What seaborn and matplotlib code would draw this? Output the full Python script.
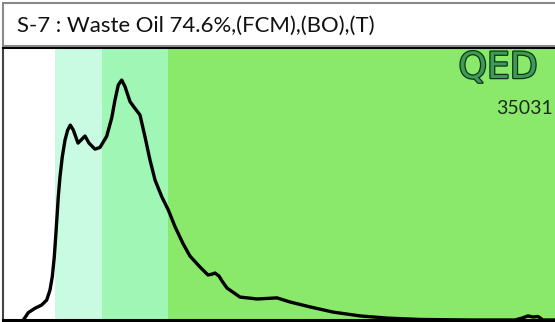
import matplotlib
matplotlib.use("Agg")
import matplotlib.pyplot as plt
import matplotlib.patheffects as pe
from matplotlib.patches import Rectangle
import pandas as pd
import seaborn as sns

# Chromatogram trace (retention position vs. detector response, %)
position = [20.3, 25.3, 32, 38.7, 43.7, 47, 49.3, 51.3, 52.7, 54, 55.3, 57,
            59.3, 62, 64.7, 67.3, 70.3, 75, 78, 82, 86, 92, 97, 103.7, 108.7,
            112, 115.3, 118.7, 122, 127, 132, 137, 142, 147, 152, 158.7, 165.3,
            172, 180, 187, 197, 205, 209, 212, 216, 219, 224, 237, 254, 274,
            287, 307, 330, 357, 384, 417, 467, 512, 519, 525, 530, 535, 540, 560]
response = [0.0, 2.7, 4.3, 5.5, 7.3, 11.0, 15.9, 23.2, 30.5, 37.8, 45.2, 52.5,
            59.8, 65.9, 69.6, 71.4, 69.6, 64.8, 65.9, 67.4, 64.8, 62.6, 63.2,
            67.3, 74.0, 80.6, 86.1, 87.9, 85.5, 80.0, 77.5, 75.1, 67.1, 58.6,
            51.3, 45.2, 40.3, 34.2, 28.0, 23.4, 19.4, 16.5, 16.8, 17.2, 16.1,
            14.3, 11.7, 8.4, 7.7, 8.1, 6.6, 4.8, 2.9, 1.5, 0.7, 0.2, 0.0, 0.0,
            0.7, 1.5, 1.1, 1.3, 0.0, 0.0]

# Boiling-range zones shaded behind the trace
zone_edges = [0, 52, 99, 165, 560]
zone_colors = ["#ffffff", "#c9fbe2", "#a0f6b4", "#8ae96a"]

title = "S-7 : Waste Oil 74.6%,(FCM),(BO),(T)"
brand = "QED"
sample_id = "35031"

df = pd.DataFrame({"position": position, "response": response})

sns.set_theme(style="white")
plt.rcParams["font.family"] = ["Lato", "DejaVu Sans"]

W, H = 555, 322
fig = plt.figure(figsize=(W / 100, H / 100), dpi=100)
fig.patch.set_facecolor("white")

# Header box
fig.patches.append(Rectangle((3 / W, 1 - 46 / H), 1.0, 43 / H,
                             transform=fig.transFigure, facecolor="white",
                             edgecolor="#8a8a8a", linewidth=1.5))
fig.text(17 / W, 1 - 26 / H, title, fontsize=15.9, color="#111111",
         va="center", ha="left")

ax = fig.add_axes([3 / W, 2 / H, 560 / W, 273 / H])
for lo, hi, c in zip(zone_edges[:-1], zone_edges[1:], zone_colors):
    ax.axvspan(lo, hi, color=c, lw=0, zorder=0)

sns.lineplot(data=df, x="position", y="response", ax=ax, color="black",
             linewidth=2.4, zorder=3)
for ln in ax.lines:
    ln.set_solid_joinstyle("round")
    ln.set_solid_capstyle("round")

ax.set_xlim(0, 560)
ax.set_ylim(0, 100)
ax.set_xticks([])
ax.set_yticks([])
ax.set_xlabel("")
ax.set_ylabel("")
for side in ["top", "bottom"]:
    ax.spines[side].set_color("black")
    ax.spines[side].set_linewidth(2.2)
ax.spines["left"].set_color("#444444")
ax.spines["left"].set_linewidth(1.5)
ax.spines["right"].set_visible(False)

fig.text(498 / W, 1 - 68 / H, brand, fontsize=26, color="#3f9a58",
         ha="center", va="center", family="DejaVu Sans",
         path_effects=[pe.Stroke(linewidth=1.8, foreground="#0b3618"),
                       pe.Normal()])
fig.text(553 / W, 1 - 109 / H, sample_id, fontsize=14, color="#1c2a1c",
         ha="right", va="center")

fig.savefig("out.png", dpi=100)
